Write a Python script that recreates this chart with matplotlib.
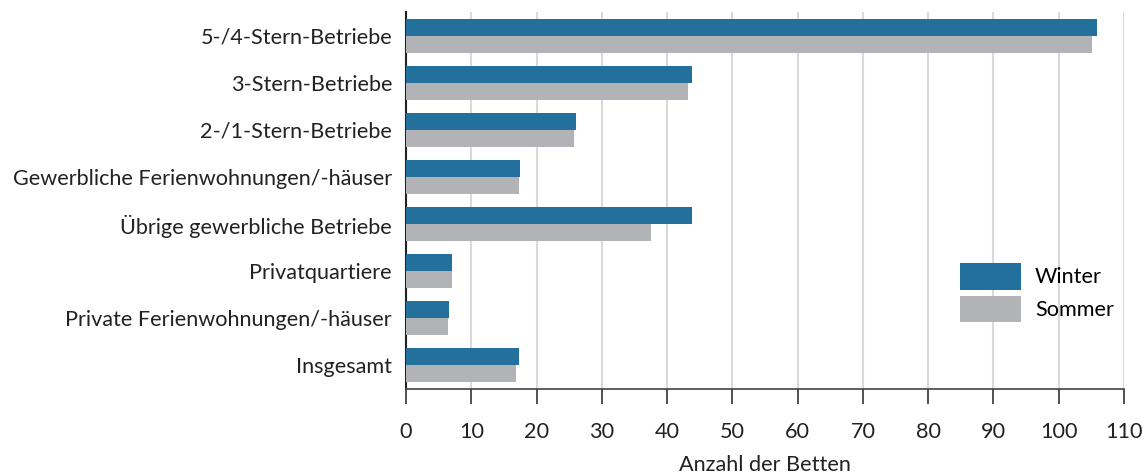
import matplotlib
import matplotlib.pyplot as plt
import numpy as np

matplotlib.use("Agg", force=True)

categories = [
    "5-/4-Stern-Betriebe",
    "3-Stern-Betriebe",
    "2-/1-Stern-Betriebe",
    "Gewerbliche Ferienwohnungen/-häuser",
    "Übrige gewerbliche Betriebe",
    "Privatquartiere",
    "Private Ferienwohnungen/-häuser",
    "Insgesamt",
]
winter = [105.8, 43.8, 26.0, 17.5, 43.8, 7.0, 6.6, 17.3]
sommer = [105.1, 43.2, 25.7, 17.3, 37.5, 7.0, 6.4, 16.8]
x_ticks = list(range(0, 111, 10))

BLUE = "#23709c"
GRAY = "#b2b3b6"
FS = 15.6

plt.rcParams["font.family"] = ["Lato", "DejaVu Sans"]

fig = plt.figure(figsize=(11.45, 4.73), dpi=100)
ax = fig.add_axes([406 / 1145, 1 - 389 / 473, (1124 - 406) / 1145, (389 - 12) / 473])

y = np.arange(len(categories))
h = 0.36
ax.barh(y - h / 2, winter, height=h, color=BLUE, label="Winter", zorder=3)
ax.barh(y + h / 2, sommer, height=h, color=GRAY, label="Sommer", zorder=3)

ax.set_ylim(len(categories) - 0.5, -0.5)
ax.set_xlim(0, 110)
ax.set_yticks(y)
ax.set_yticklabels(categories, fontsize=FS, color="#222222")
ax.set_xticks(x_ticks)
ax.set_xticklabels([str(t) for t in x_ticks], fontsize=FS, color="#222222")
ax.tick_params(axis="y", length=0, pad=10)
ax.tick_params(axis="x", length=11, color="#333333", width=1.2, pad=13)
ax.set_xlabel("Anzahl der Betten", fontsize=FS, color="#222222", labelpad=9)

ax.grid(axis="x", color="#d9d9d9", linewidth=1.5, zorder=0)
for side in ("top", "right"):
    ax.spines[side].set_visible(False)
ax.spines["left"].set_color("#222222")
ax.spines["left"].set_linewidth(1.5)
ax.spines["bottom"].set_color("#444444")
ax.spines["bottom"].set_linewidth(1.2)

ax.legend(loc="upper left", bbox_to_anchor=(0.772, 0.334), frameon=False,
          fontsize=FS, handlelength=2.8, handleheight=1.5, labelspacing=0.3,
          handletextpad=0.65, borderpad=0, borderaxespad=0)

fig.savefig("out.png", dpi=100)
